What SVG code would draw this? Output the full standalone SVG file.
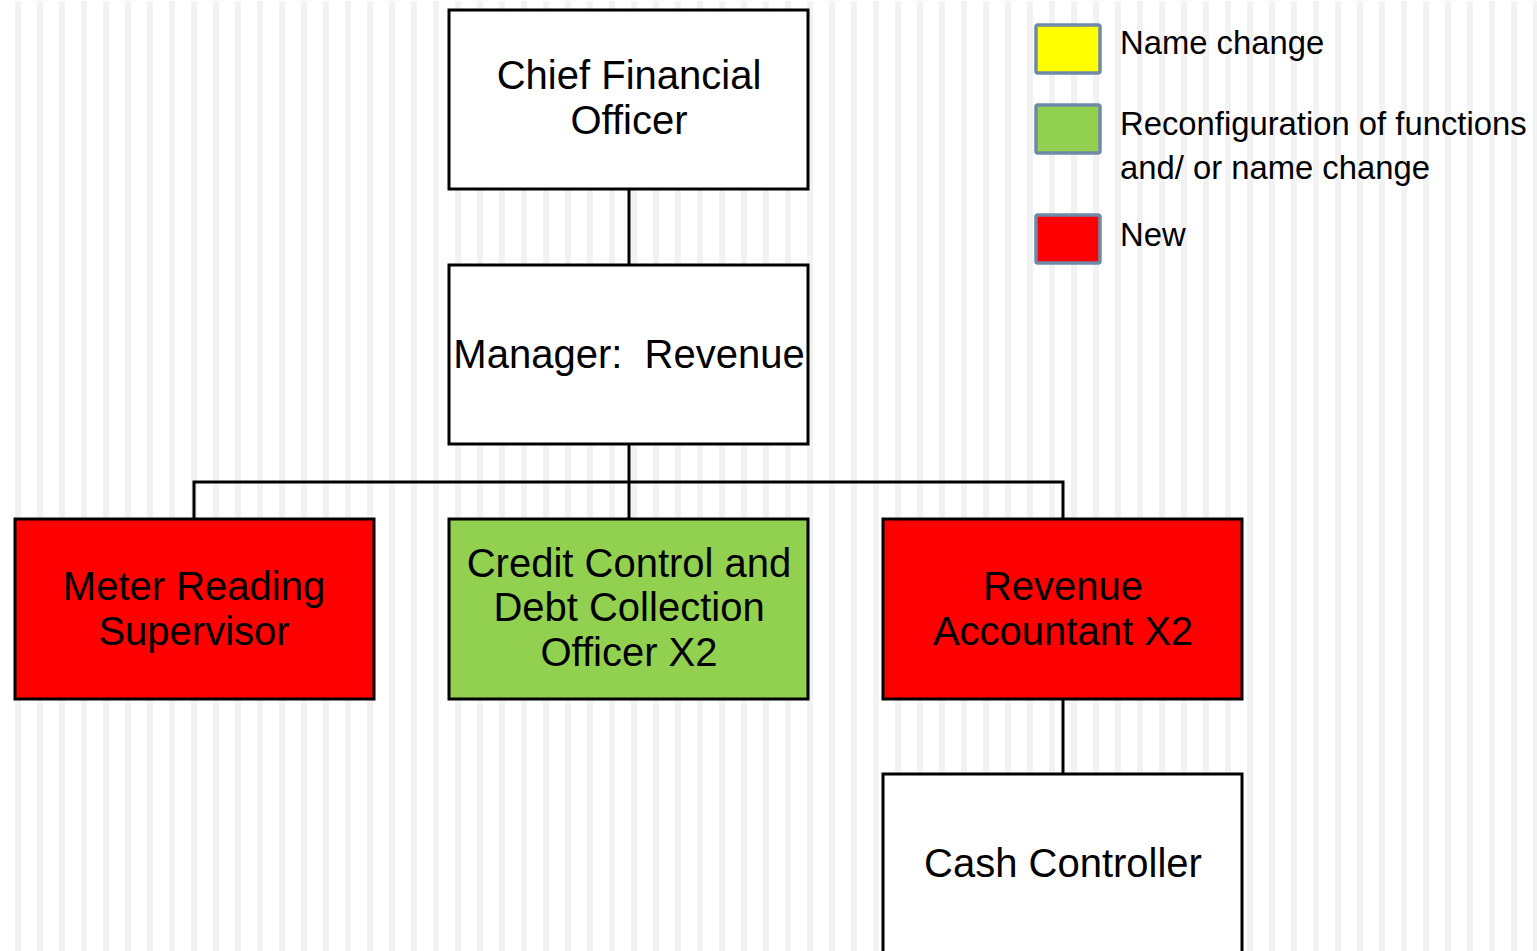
<svg xmlns="http://www.w3.org/2000/svg" width="1537" height="951" viewBox="0 0 1537 951">
  <defs>
    <pattern id="stripes" x="0" y="1" width="22" height="950" patternUnits="userSpaceOnUse">
      <rect x="15" y="0" width="6" height="950" fill="#f2f2f2"/>
    </pattern>
    <style>
      .box { stroke: #000; stroke-width: 3; }
      .white { fill: #ffffff; }
      .red { fill: #ff0000; }
      .green { fill: #92d050; }
      .label { font-family: "Liberation Sans", Arial, sans-serif; font-size: 40px; fill: #000; text-anchor: middle; white-space: pre; }
      .legend-text { font-family: "Liberation Sans", Arial, sans-serif; font-size: 32.8px; fill: #000; }
      .swatch { stroke: #6f89a6; stroke-width: 3.5; }
      .wire { stroke: #000; stroke-width: 3; fill: none; }
    </style>
  </defs>

  <!-- background -->
  <rect x="0" y="0" width="1537" height="951" fill="#ffffff"/>
  <rect x="0" y="1" width="1537" height="950" fill="url(#stripes)"/>

  <!-- connectors -->
  <g id="connectors">
    <line class="wire" x1="629" y1="189" x2="629" y2="265"/>
    <line class="wire" x1="629" y1="444" x2="629" y2="519"/>
    <polyline class="wire" points="194,519 194,482 1063,482 1063,519"/>
    <line class="wire" x1="1063" y1="699" x2="1063" y2="774"/>
  </g>

  <!-- org chart nodes -->
  <g id="node-cfo">
    <rect class="box white" x="449" y="10" width="359" height="179"/>
    <text class="label" x="629" y="89">Chief Financial</text>
    <text class="label" x="629" y="134">Officer</text>
  </g>

  <g id="node-manager-revenue">
    <rect class="box white" x="449" y="265" width="359" height="179"/>
    <text class="label" x="629" y="368" xml:space="preserve">Manager:  Revenue</text>
  </g>

  <g id="node-meter-reading">
    <rect class="box red" x="15" y="519" width="359" height="180"/>
    <text class="label" x="194" y="600">Meter Reading</text>
    <text class="label" x="194" y="645">Supervisor</text>
  </g>

  <g id="node-credit-control">
    <rect class="box green" x="449" y="519" width="359" height="180"/>
    <text class="label" x="629" y="577">Credit Control and</text>
    <text class="label" x="629" y="621">Debt Collection</text>
    <text class="label" x="629" y="666">Officer X2</text>
  </g>

  <g id="node-revenue-accountant">
    <rect class="box red" x="883" y="519" width="359" height="180"/>
    <text class="label" x="1063" y="600">Revenue</text>
    <text class="label" x="1063" y="645">Accountant X2</text>
  </g>

  <g id="node-cash-controller">
    <rect class="box white" x="883" y="774" width="359" height="190"/>
    <text class="label" x="1063" y="877">Cash Controller</text>
  </g>

  <!-- legend -->
  <g id="legend">
    <rect class="swatch" x="1036" y="25" width="64" height="48" rx="2" fill="#ffff00"/>
    <text class="legend-text" x="1120" y="54">Name change</text>
    <rect class="swatch" x="1036" y="105" width="64" height="48" rx="2" fill="#92d050"/>
    <text class="legend-text" x="1120" y="135">Reconfiguration of functions</text>
    <text class="legend-text" x="1120" y="179">and/ or name change</text>
    <rect class="swatch" x="1036" y="215" width="64" height="48" rx="2" fill="#ff0000"/>
    <text class="legend-text" x="1120" y="246">New</text>
  </g>
</svg>
